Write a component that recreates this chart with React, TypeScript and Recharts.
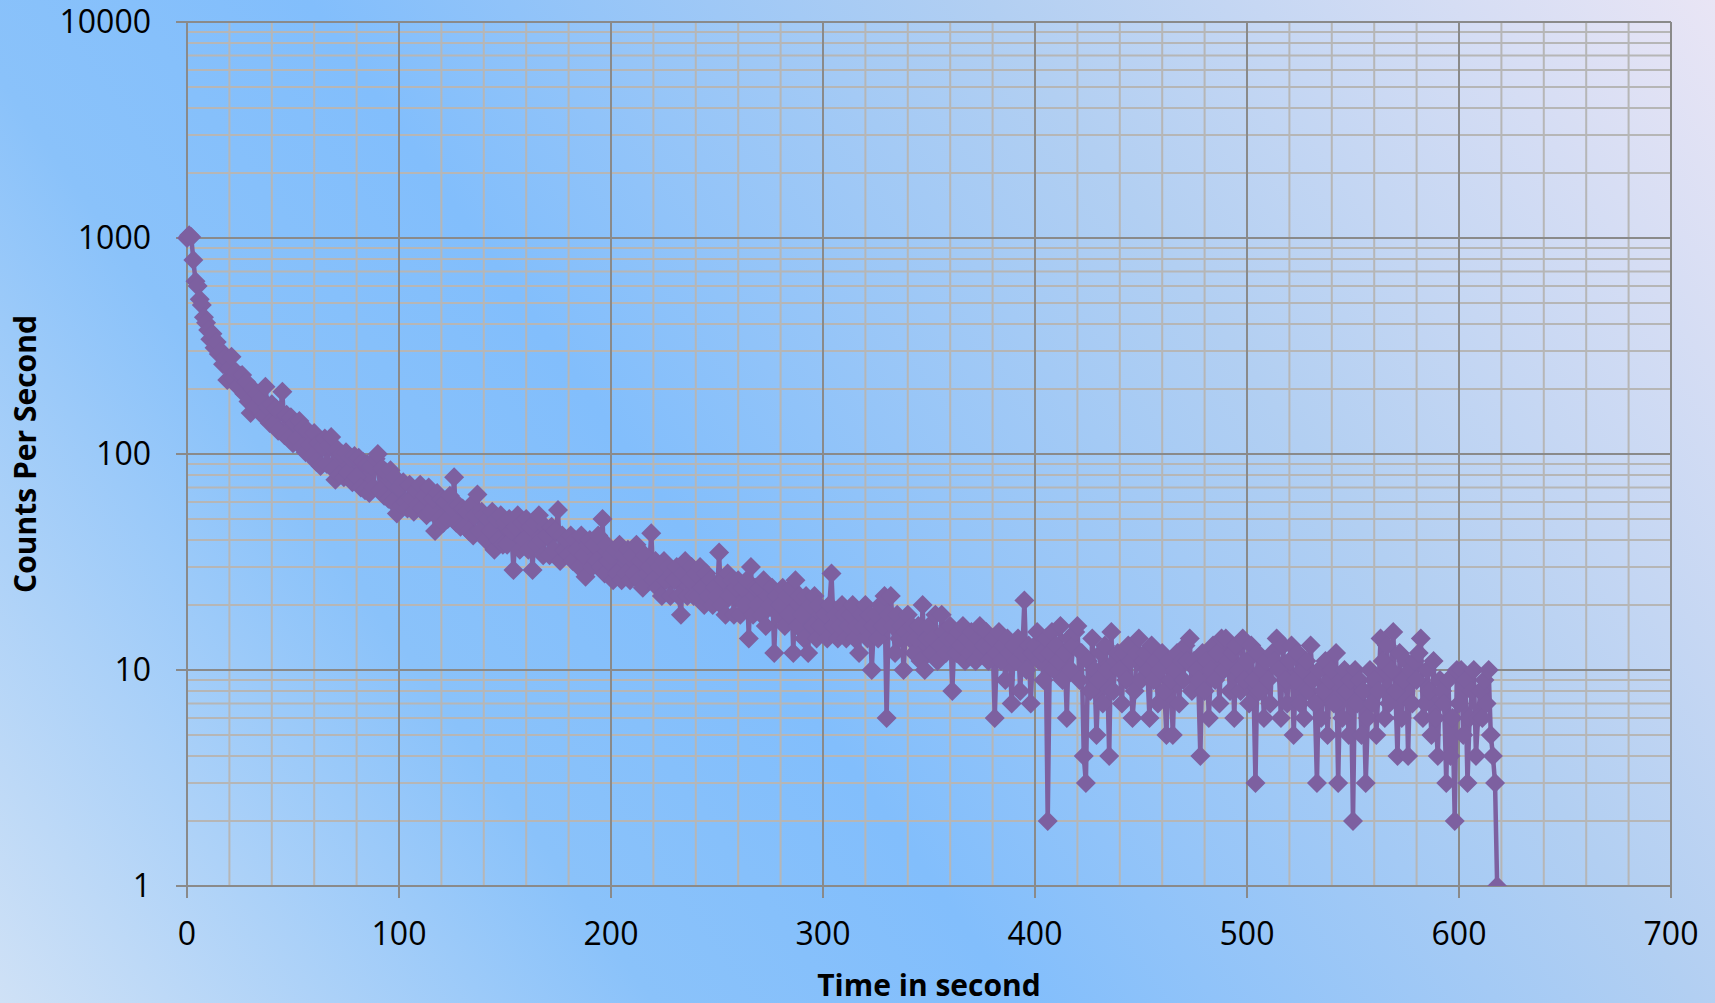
import React from 'react';
import { LineChart, Line, XAxis, YAxis, ReferenceLine, Label } from 'recharts';

// Time axis: one reading per second starting at t = 0
const TIME_START = 0;
const TIME_STEP = 1;

// Counts per second, t = 0..199
const countsEarly: number[] = [
  1000, 1030, 1010, 790, 630, 600, 520, 490, 430, 405,
  375, 340, 360, 310, 330, 290, 300, 260, 280, 220,
  250, 282, 225, 240, 205, 230, 232, 190, 215, 175,
  155, 200, 165, 190, 160, 180, 150, 205, 165, 139,
  170, 138, 162, 128, 158, 194, 122, 152, 118, 148,
  112, 138, 118, 142, 108, 132, 102, 128, 110, 98,
  125, 92, 112, 88, 108, 118, 90, 110, 120, 85,
  76, 105, 80, 100, 78, 102, 82, 96, 74, 98,
  78, 96, 70, 92, 68, 90, 66, 88, 70, 95,
  100, 68, 86, 64, 82, 62, 84, 60, 78, 53,
  70, 58, 74, 60, 56, 72, 62, 54, 68, 58,
  72, 56, 64, 52, 70, 54, 62, 44, 66, 50,
  62, 48, 60, 50, 64, 56, 78, 48, 58, 46,
  56, 46, 54, 44, 58, 42, 52, 65, 44, 54,
  52, 40, 50, 44, 54, 36, 50, 40, 52, 38,
  48, 38, 50, 44, 29, 46, 52, 36, 48, 40,
  50, 36, 46, 29, 48, 38, 52, 40, 34, 46,
  42, 34, 46, 36, 44, 55, 32, 42, 36, 40,
  34, 42, 32, 40, 36, 30, 42, 34, 27, 38,
  40, 30, 38, 32, 42, 30, 50, 28, 38, 32,
];

// Counts per second, t = 200..399
const countsMiddle: number[] = [
  34, 26, 36, 28, 38, 26, 34, 28, 36, 26,
  34, 28, 38, 26, 32, 24, 34, 28, 30, 43,
  26, 32, 24, 30, 22, 32, 26, 30, 22, 28,
  26, 30, 22, 18, 28, 32, 22, 26, 30, 22,
  28, 22, 30, 24, 20, 28, 22, 26, 20, 24,
  22, 35, 20, 26, 18, 28, 22, 26, 18, 24,
  26, 18, 24, 20, 26, 14, 30, 18, 24, 20,
  24, 18, 26, 16, 22, 20, 24, 12, 22, 18,
  20, 24, 16, 22, 18, 24, 12, 26, 16, 22,
  18, 14, 22, 12, 20, 16, 22, 14, 20, 16,
  16, 18, 14, 20, 28, 16, 18, 14, 16, 20,
  18, 14, 16, 18, 20, 14, 16, 12, 18, 16,
  20, 14, 18, 10, 16, 18, 14, 20, 16, 22,
  6, 18, 22, 16, 12, 18, 14, 16, 10, 15,
  18, 14, 16, 12, 14, 16, 11, 20, 10, 14,
  16, 12, 14, 18, 11, 13, 18, 15, 12, 14,
  16, 8, 14, 12, 15, 13, 16, 11, 14, 12,
  15, 13, 11, 14, 16, 12, 13, 15, 11, 13,
  14, 6, 12, 15, 11, 13, 9, 14, 12, 7,
  13, 11, 14, 8, 12, 21, 10, 13, 7, 12,
];

// Counts per second, t = 400..618
const countsLate: number[] = [
  13, 15, 11, 12, 9, 14, 2, 12, 15, 10,
  13, 11, 16, 9, 12, 6, 14, 10, 13, 15,
  16, 9, 12, 4, 3, 11, 8, 14, 10, 5,
  9, 12, 7, 13, 10, 4, 15, 8, 11, 12,
  10, 7, 12, 9, 13, 11, 6, 8, 12, 14,
  9, 11, 12, 10, 6, 13, 9, 11, 7, 10,
  12, 8, 5, 11, 9, 5, 10, 12, 7, 11,
  9, 13, 11, 14, 8, 11, 10, 9, 4, 12,
  8, 11, 6, 10, 13, 9, 12, 7, 14, 10,
  14, 11, 8, 12, 6, 13, 10, 8, 14, 9,
  11, 7, 13, 9, 3, 12, 8, 10, 6, 11,
  9, 7, 12, 11, 14, 10, 6, 13, 9, 7,
  11, 13, 5, 9, 12, 7, 10, 6, 11, 8,
  13, 9, 7, 3, 10, 6, 8, 11, 5, 9,
  10, 7, 12, 3, 9, 6, 10, 8, 5, 9,
  2, 10, 7, 9, 5, 8, 3, 6, 10, 7,
  9, 5, 8, 14, 11, 6, 13, 7, 10, 15,
  8, 4, 12, 6, 9, 11, 4, 10, 7, 11,
  9, 12, 14, 6, 7, 10, 8, 5, 11, 6,
  4, 9, 8, 7, 3, 9, 4, 6, 2, 10,
  7, 10, 5, 9, 3, 6, 8, 10, 4, 6,
  8, 6, 9, 7, 10, 5, 4, 3, 1,
];

const xTicks = [0, 100, 200, 300, 400, 500, 600, 700];
const xMinorGrid = [20, 40, 60, 80, 120, 140, 160, 180, 220, 240, 260, 280, 320, 340, 360, 380,
  420, 440, 460, 480, 520, 540, 560, 580, 620, 640, 660, 680];
const xMajorGrid = [100, 200, 300, 400, 500, 600, 700];
const yTicks = [1, 10, 100, 1000, 10000];
const yMinorMultipliers = [2, 3, 4, 5, 6, 7, 8, 9];
const yDecades = [1, 10, 100, 1000];
const yMajorGrid = [10, 100, 1000, 10000];

const xLabel = 'Time in second';
const yLabel = 'Counts Per Second';

const allCounts = [...countsEarly, ...countsMiddle, ...countsLate];
const data = allCounts.map((c, i) => ({ t: TIME_START + i * TIME_STEP, c }));
const yMinorGrid: number[] = [];
yDecades.forEach((d) => yMinorMultipliers.forEach((m) => yMinorGrid.push(d * m)));

const SERIES_COLOR = '#7d60a0';
const MINOR = '#b6b6b6';
const MAJOR = '#8a8a8a';
const FONT = '"Open Sans", "Liberation Sans", sans-serif';

const Diamond = (props: any) => {
  const { cx, cy, index } = props;
  if (cx == null || cy == null || isNaN(cx) || isNaN(cy)) return <g key={`d-${index}`} />;
  const r = 10;
  return (
    <path
      key={`d-${index}`}
      d={`M${cx},${cy - r}L${cx + r},${cy}L${cx},${cy + r}L${cx - r},${cy}Z`}
      fill={SERIES_COLOR}
      stroke="none"
    />
  );
};

export default function App() {
  return (
    <div
      style={{
        position: 'absolute',
        left: 0,
        top: 0,
        width: 1715,
        height: 1003,
        background:
          'linear-gradient(54.7deg, #cfe1f6 0%, #8ac2fa 27%, #82befc 42%, #b2cff2 70%, #e9e5f5 100%)',
        overflow: 'hidden',
      }}
    >
      <LineChart
        width={1715}
        height={1003}
        data={data}
        margin={{ top: 22, right: 44, bottom: 0, left: 0 }}
      >
        <XAxis
          dataKey="t"
          type="number"
          domain={[0, 700]}
          ticks={xTicks}
          height={117}
          tickSize={12}
          tickMargin={24}
          axisLine={{ stroke: MAJOR, strokeWidth: 2 }}
          tickLine={{ stroke: MAJOR, strokeWidth: 2 }}
          tick={{ fontFamily: FONT, fontSize: 32, fill: '#000' }}
          interval={0}
        >
          <Label
            value={xLabel}
            position="insideBottom"
            offset={7}
            style={{ fontFamily: FONT, fontSize: 30, fontWeight: 700, fill: '#000' }}
          />
        </XAxis>
        <YAxis
          dataKey="c"
          scale="log"
          domain={[1, 10000]}
          ticks={yTicks}
          allowDataOverflow
          width={187}
          tickSize={11}
          tickMargin={25}
          axisLine={{ stroke: MAJOR, strokeWidth: 2 }}
          tickLine={{ stroke: MAJOR, strokeWidth: 2 }}
          tick={{ fontFamily: FONT, fontSize: 32, fill: '#000' }}
          interval={0}
        >
          <Label
            value={yLabel}
            position="insideLeft"
            angle={-90}
            offset={25}
            style={{ fontFamily: FONT, fontSize: 30, fontWeight: 700, fill: '#000', textAnchor: 'middle' }}
          />
        </YAxis>
        {xMinorGrid.map((v) => (
          <ReferenceLine key={`xm${v}`} x={v} stroke={MINOR} strokeWidth={2} />
        ))}
        {yMinorGrid.map((v) => (
          <ReferenceLine key={`ym${v}`} y={v} stroke={MINOR} strokeWidth={2} />
        ))}
        {xMajorGrid.map((v) => (
          <ReferenceLine key={`xM${v}`} x={v} stroke={MAJOR} strokeWidth={2} />
        ))}
        {yMajorGrid.map((v) => (
          <ReferenceLine key={`yM${v}`} y={v} stroke={MAJOR} strokeWidth={2} />
        ))}
        <Line
          type="linear"
          dataKey="c"
          stroke={SERIES_COLOR}
          strokeWidth={4.5}
          dot={Diamond}
          activeDot={false}
          isAnimationActive={false}
        />
      </LineChart>
    </div>
  );
}
